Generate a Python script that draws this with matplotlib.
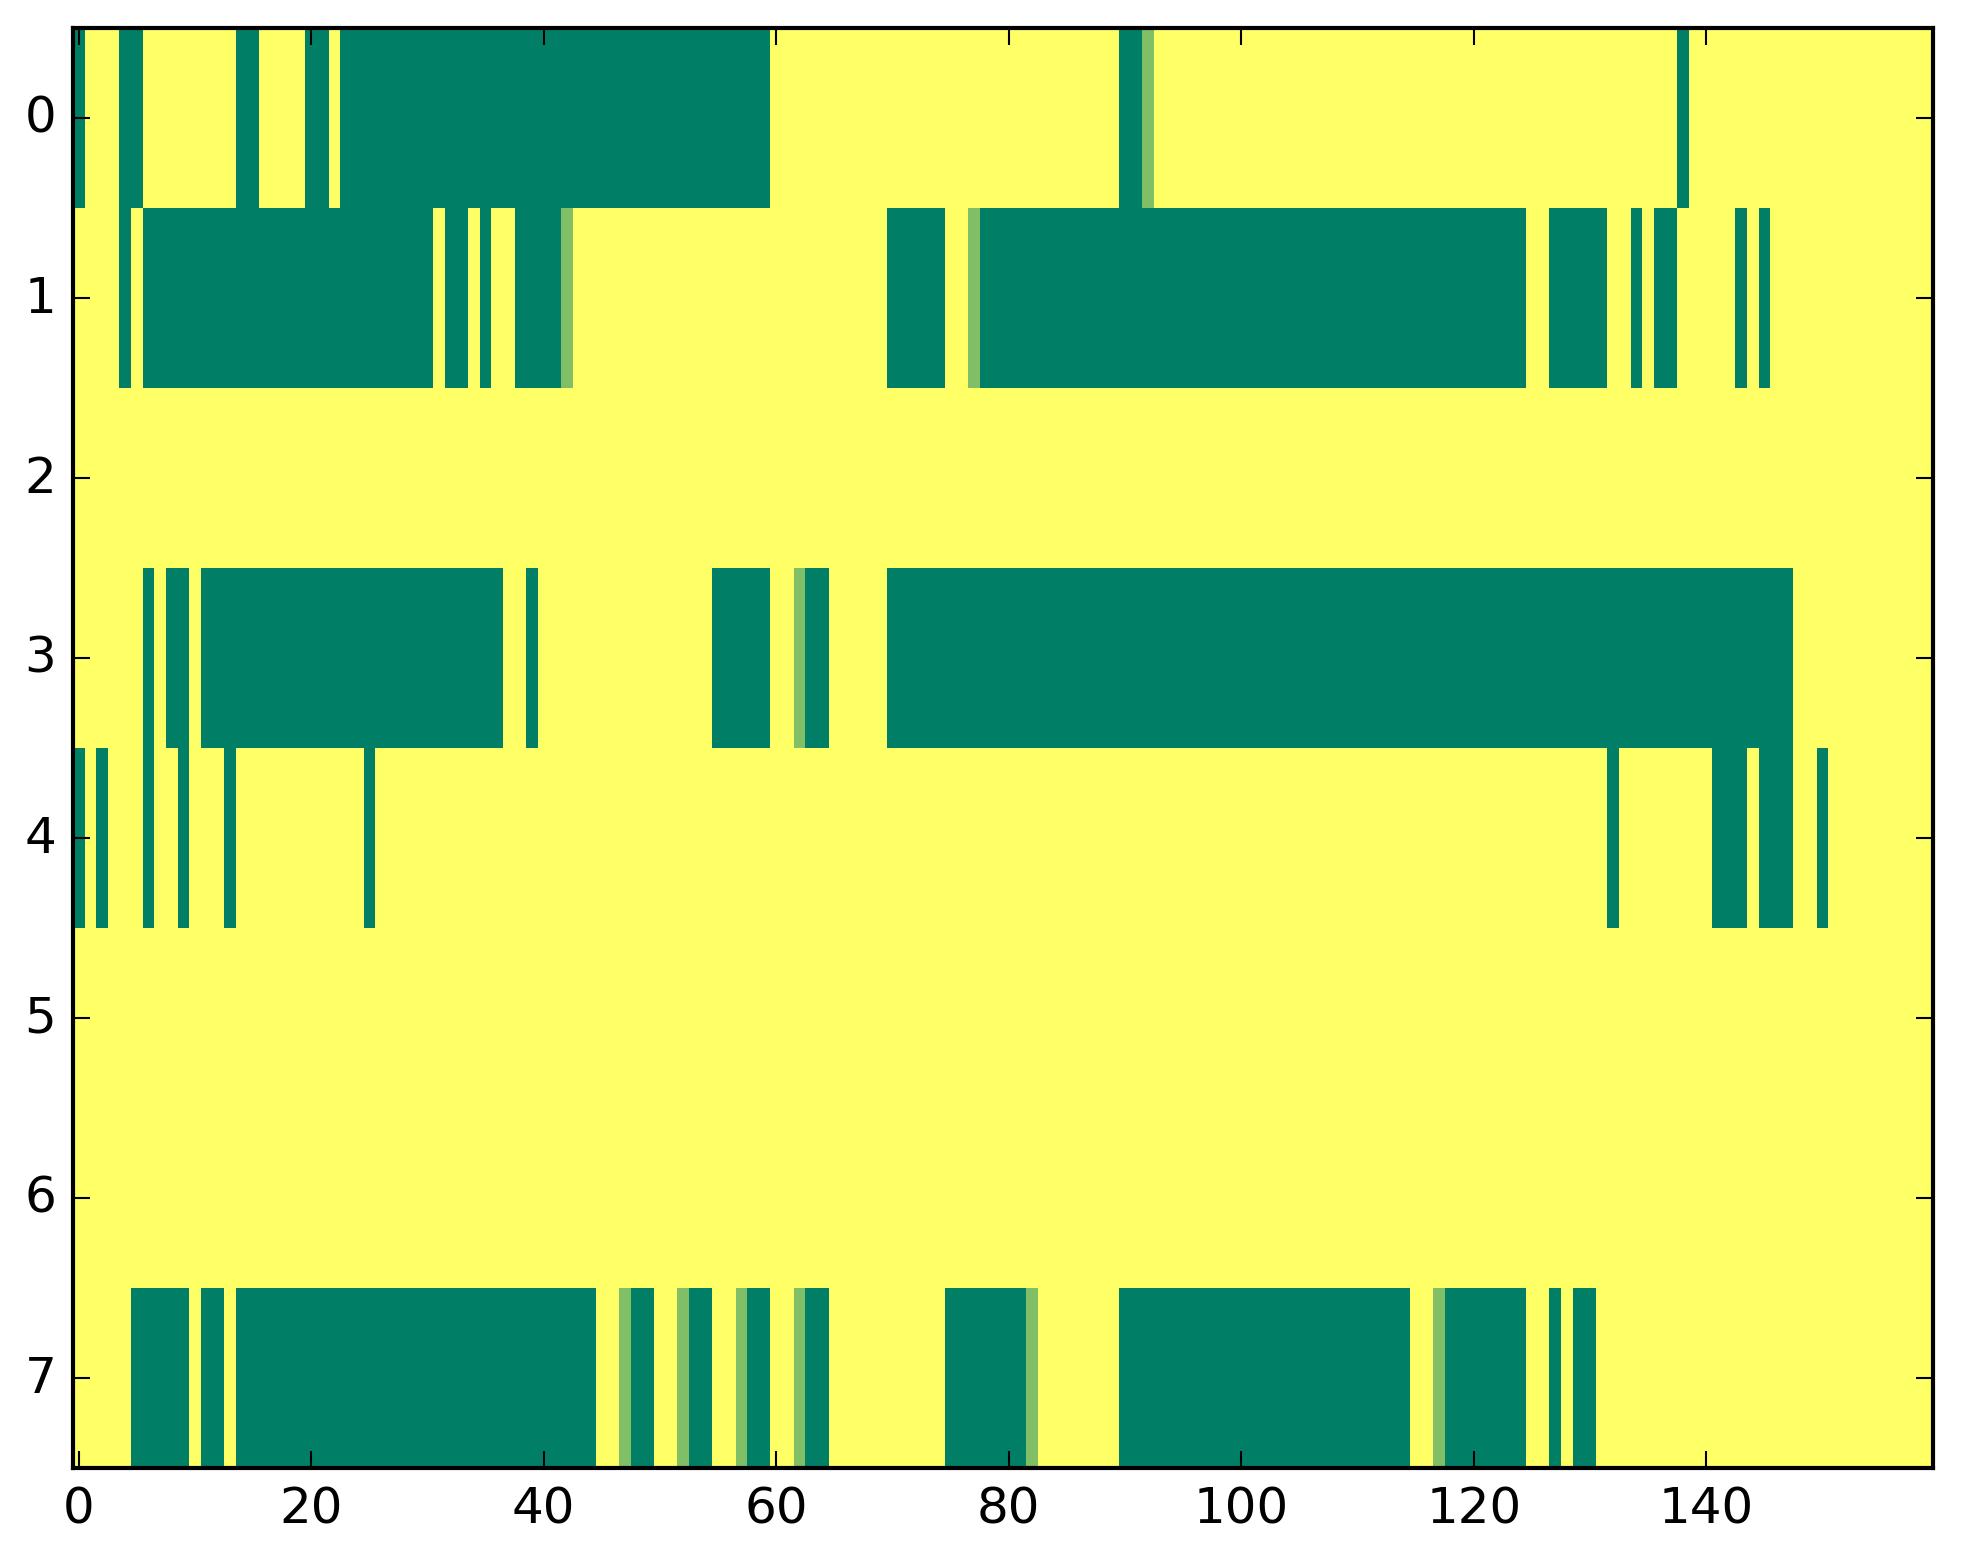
import numpy as np
import matplotlib
matplotlib.use('Agg')
import matplotlib.pyplot as plt

plt.style.use('classic')

n_rows = 8
n_cols = 160

# cell values: 0 = dark green, 0.5 = light green, 1 = yellow (default)
dark_runs = {
    0: [(0, 0), (4, 5), (14, 15), (20, 21), (23, 59), (90, 91), (138, 138)],
    1: [(4, 4), (6, 30), (32, 33), (35, 35), (38, 41), (70, 74), (78, 124),
        (127, 131), (134, 134), (136, 137), (143, 143), (145, 145)],
    3: [(6, 6), (8, 9), (11, 36), (39, 39), (55, 59), (63, 64), (70, 147)],
    4: [(0, 0), (2, 2), (6, 6), (9, 9), (13, 13), (25, 25), (132, 132),
        (141, 143), (145, 147), (150, 150)],
    7: [(5, 9), (11, 12), (14, 44), (48, 49), (53, 54), (58, 59), (63, 64),
        (75, 81), (90, 114), (118, 124), (127, 127), (129, 130)],
}
light_cells = {
    0: [92],
    1: [42, 77],
    3: [62],
    7: [47, 52, 57, 62, 82, 117],
}

data = np.ones((n_rows, n_cols))
for row, runs in dark_runs.items():
    for a, b in runs:
        data[row, a:b + 1] = 0.0
for row, cols in light_cells.items():
    for c in cols:
        data[row, c] = 0.5

fig = plt.figure(figsize=(1963 / 300, 1564 / 300), dpi=300)
ax = fig.add_axes([73 / 1963, 1 - 1468.7 / 1564, 1860 / 1963, 1440 / 1564])
ax.imshow(data, cmap='summer', aspect='auto', interpolation='nearest',
          vmin=0, vmax=1)
ax.set_xticks(np.arange(0, 141, 20))
ax.set_yticks(np.arange(0, 8))

fig.savefig('out.png', dpi=300)
